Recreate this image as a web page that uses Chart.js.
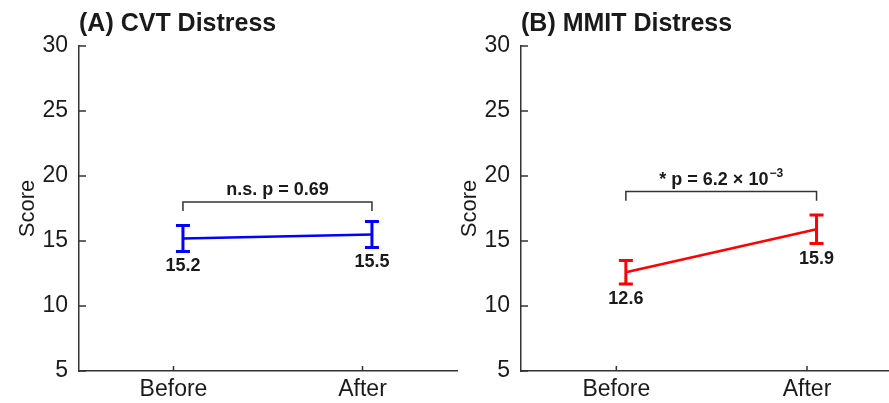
<!DOCTYPE html>
<html lang="en">
<head>
<meta charset="UTF-8">
<title>CVT / MMIT Distress</title>
<script src="https://cdn.jsdelivr.net/npm/chart.js"></script>
<style>
    body { margin: 0; background: #fff; }
    .wrap { position: relative; width: 889px; height: 403px; overflow: hidden; }
    canvas { position: absolute; top: 0; }
    #chartA { left: 0; }
    #chartB { left: 442px; }
</style>
</head>
<body>
<div class="wrap">
    <canvas id="chartA" width="460" height="403"></canvas>
    <canvas id="chartB" width="447" height="403"></canvas>
</div>
<script>
// data
const categories = ["Before", "After"];
const yTicks = [5, 10, 15, 20, 25, 30];
const cvtMeans = [15.2, 15.5];
const cvtErrors = [1.0, 1.0];
const mmitMeans = [12.6, 15.9];
const mmitErrors = [0.9, 1.1];
const bracketLevels = [18.0, 18.8];
const pTexts = ["n.s. p = 0.69", "* p = 6.2 \u00d7 10"];
const pExponents = ["", "\u22123"];

const FONT = "Arial, 'Liberation Sans', sans-serif";
const AXIS = "#333";
const TEXT = "#1a1a1a";
const pointShift = 0.05;   // points sit a bit right of the category tick
const bracketDrop = 0.7;

const decorations = {
    id: "decorations",
    afterDraw(chart, args, opts) {
        const ctx = chart.ctx;
        const x = chart.scales.x, y = chart.scales.y;
        const area = chart.chartArea;
        ctx.save();

        // inward tick marks
        ctx.strokeStyle = AXIS;
        ctx.lineWidth = 1.5;
        ctx.beginPath();
        yTicks.forEach(v => {
            const py = y.getPixelForValue(v);
            ctx.moveTo(area.left, py);
            ctx.lineTo(area.left + 7, py);
        });
        categories.forEach((c, i) => {
            const px = x.getPixelForValue(i + 1);
            ctx.moveTo(px, area.bottom);
            ctx.lineTo(px, area.bottom - 5);
        });
        ctx.stroke();

        // error bars + value labels
        const ds = chart.data.datasets[0];
        const xs = [];
        ds.data.forEach((p, i) => {
            const px = x.getPixelForValue(p.x);
            const top = y.getPixelForValue(p.y + opts.errors[i]);
            const bot = y.getPixelForValue(p.y - opts.errors[i]);
            xs.push(px);
            ctx.strokeStyle = ds.borderColor;
            ctx.lineWidth = 3;
            ctx.beginPath();
            ctx.moveTo(px, top); ctx.lineTo(px, bot);
            ctx.moveTo(px - 7, top); ctx.lineTo(px + 7, top);
            ctx.moveTo(px - 7, bot); ctx.lineTo(px + 7, bot);
            ctx.stroke();

            ctx.fillStyle = TEXT;
            ctx.font = "bold 18px " + FONT;
            ctx.textAlign = "center";
            ctx.textBaseline = "middle";
            ctx.fillText(p.y.toFixed(1), px, bot + 15);
        });

        // significance bracket
        const by = y.getPixelForValue(opts.bracket);
        const bEnd = y.getPixelForValue(opts.bracket - bracketDrop);
        ctx.strokeStyle = AXIS;
        ctx.lineWidth = 1.5;
        ctx.beginPath();
        ctx.moveTo(xs[0], bEnd);
        ctx.lineTo(xs[0], by);
        ctx.lineTo(xs[1], by);
        ctx.lineTo(xs[1], bEnd);
        ctx.stroke();

        const mid = (xs[0] + xs[1]) / 2;
        ctx.fillStyle = TEXT;
        ctx.font = "bold 18px " + FONT;
        const w1 = ctx.measureText(opts.pText).width;
        ctx.font = "bold 12px " + FONT;
        const w2 = opts.pExp ? ctx.measureText(opts.pExp).width + 1 : 0;
        const start = mid - (w1 + w2) / 2;
        ctx.textAlign = "left";
        ctx.textBaseline = "middle";
        ctx.font = "bold 18px " + FONT;
        ctx.fillText(opts.pText, start, by - 12);
        if (opts.pExp) {
            ctx.font = "bold 12px " + FONT;
            ctx.fillText(opts.pExp, start + w1 + 1, by - 18);
        }

        // panel title
        ctx.font = "bold 25px " + FONT;
        ctx.textAlign = "left";
        ctx.textBaseline = "middle";
        ctx.fillText(opts.title, area.left, 24);
        ctx.restore();
    }
};

function makeChart(id, means, errors, color, xMax, padRight, title, bracket, pText, pExp) {
    return new Chart(document.getElementById(id), {
        type: "line",
        data: {
            datasets: [{
                data: means.map((m, i) => ({ x: i + 1 + pointShift, y: m })),
                borderColor: color,
                borderWidth: 2.5,
                pointRadius: 0,
                tension: 0
            }]
        },
        options: {
            responsive: false,
            animation: false,
            devicePixelRatio: 1,
            layout: { padding: { top: 46, right: padRight, left: 0, bottom: 0 } },
            plugins: {
                legend: { display: false },
                tooltip: { enabled: false },
                decorations: { errors, bracket, pText, pExp, title }
            },
            scales: {
                x: {
                    type: "linear",
                    min: 0.5,
                    max: xMax,
                    afterBuildTicks: s => { s.ticks = categories.map((c, i) => ({ value: i + 1 })); },
                    ticks: {
                        callback: v => categories[v - 1],
                        font: { family: FONT, size: 23 },
                        color: TEXT,
                        padding: 5,
                        maxRotation: 0,
                        autoSkip: false
                    },
                    grid: { display: false, tickLength: 0 },
                    border: { color: AXIS, width: 1.5 },
                    afterFit: s => { s.height = 32; }
                },
                y: {
                    min: 5,
                    max: 30,
                    afterBuildTicks: s => { s.ticks = yTicks.map(v => ({ value: v })); },
                    ticks: {
                        font: { family: FONT, size: 23 },
                        color: TEXT,
                        padding: 11
                    },
                    title: {
                        display: true,
                        text: "Score",
                        font: { family: FONT, size: 22 },
                        color: TEXT,
                        padding: { top: 15, bottom: 0 }
                    },
                    grid: { display: false, tickLength: 0 },
                    border: { color: AXIS, width: 1.5 },
                    afterFit: s => { s.width = 79; }
                }
            }
        },
        plugins: [decorations]
    });
}

makeChart("chartA", cvtMeans, cvtErrors, "#0000ff", 2.5, 3, "(A) CVT Distress",
    bracketLevels[0], pTexts[0], pExponents[0]);
makeChart("chartB", mmitMeans, mmitErrors, "#ff0000", 2.43, 0, "(B) MMIT Distress",
    bracketLevels[1], pTexts[1], pExponents[1]);
</script>
</body>
</html>
